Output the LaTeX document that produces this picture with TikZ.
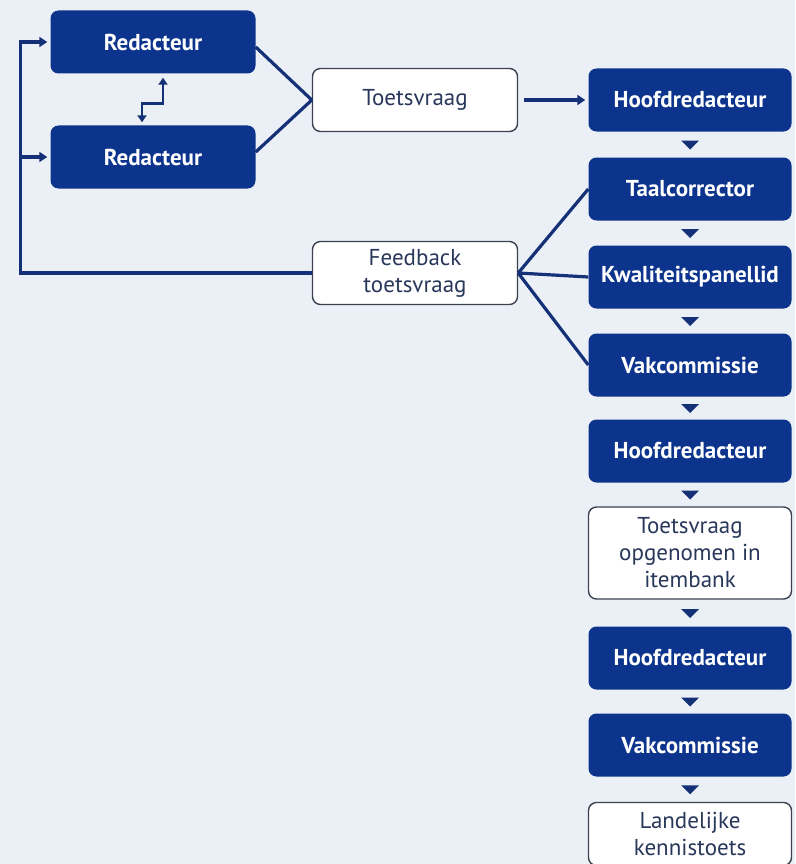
\documentclass[tikz,border=0pt]{standalone}
\usepackage{fontspec}
\setmainfont{PT Sans}
\usetikzlibrary{positioning,arrows.meta}
\definecolor{navy}{RGB}{12,52,140}
\definecolor{navyline}{RGB}{20,48,118}
\definecolor{bggrey}{RGB}{235,239,246}
\definecolor{rimgrey}{RGB}{60,66,80}
\definecolor{inkgrey}{RGB}{40,55,90}

\begin{document}
\begin{tikzpicture}[
        x=1pt, y=-1pt,
        darkbox/.style={rectangle, rounded corners=8pt, fill=navy, text=white, font=\fontsize{23}{27}\selectfont\bfseries, minimum width=205pt, minimum height=63pt, inner sep=2pt, align=center},
        lightbox/.style={rectangle, rounded corners=8pt, fill=white, draw=rimgrey, line width=1.4pt, text=inkgrey, font=\fontsize{23}{27}\selectfont, minimum width=205pt, minimum height=63pt, inner sep=2pt, align=center},
        link/.style={draw=navyline, line width=3.2pt},
        arr/.style={link, -{Triangle[length=8pt,width=10pt]}},
    ]

    % Background
    \path[use as bounding box, fill=bggrey] (0,0) rectangle (795,864);

    % Writers
    \node[darkbox] at (153,42) (r1) {Redacteur};
    \node[darkbox] at (153,157) (r2) {Redacteur};

    % Question and feedback
    \node[lightbox] at (415,100) (tv) {Toetsvraag};
    \node[lightbox] at (415,273) (fb) {Feedback\\toetsvraag};

    % Review chain
    \node[darkbox, minimum width=203pt] at (690,100) (h1) {Hoofdredacteur};
    \node[darkbox, minimum width=203pt] at (690,189) (tc) {Taalcorrector};
    \node[darkbox, minimum width=203pt] at (690,277) (kp) {Kwaliteitspanellid};
    \node[darkbox, minimum width=203pt] at (690,365) (vc) {Vakcommissie};
    \node[darkbox, minimum width=203pt] at (690,451) (h2) {Hoofdredacteur};
    \node[lightbox, minimum width=203pt, minimum height=92pt] at (690,553) (to) {Toetsvraag\\opgenomen in\\itembank};
    \node[darkbox, minimum width=203pt] at (690,658) (h3) {Hoofdredacteur};
    \node[darkbox, minimum width=203pt] at (690,745) (vc2) {Vakcommissie};
    \node[lightbox, minimum width=203pt] at (690,834) (ld) {Landelijke\\kennistoets};

    % Writers to question
    \draw[link] ([yshift=-5pt]r1.east) -- (tv.west);
    \draw[link] ([yshift=5pt]r2.east) -- (tv.west);
    \draw[link, {Triangle[length=7pt,width=9pt]}-{Triangle[length=7pt,width=9pt]}, line width=2.6pt, shorten <=3pt, shorten >=4pt]
        ([xshift=-11pt]r2.north) -- ++(0,-22) -| ([xshift=10pt]r1.south);
    \draw[arr, shorten <=6pt, shorten >=3pt] (tv) -- (h1);

    % Feedback
    \draw[link] (fb.east) -- (tc.west);
    \draw[link] (fb.east) -- (kp.west);
    \draw[link] (fb.east) -- (vc.west);
    \draw[arr, shorten >=3pt] (fb.west) -| ([xshift=-30pt]r2.west) -- (r2.west);
    \draw[arr, shorten >=3pt] ([xshift=-30pt]r2.west) |- (r1.west);

    % Steps down the chain
    \foreach \a/\b in {h1/tc, tc/kp, kp/vc, vc/h2, h2/to, to/h3, h3/vc2, vc2/ld} {
        \path (\a.south) -- coordinate[midway] (m) (\b.north);
        \fill[navyline] ([xshift=-9pt,yshift=4pt]m) -- ++(18,0) -- ++(-9,9) -- cycle;
    }

\end{tikzpicture}
\end{document}
